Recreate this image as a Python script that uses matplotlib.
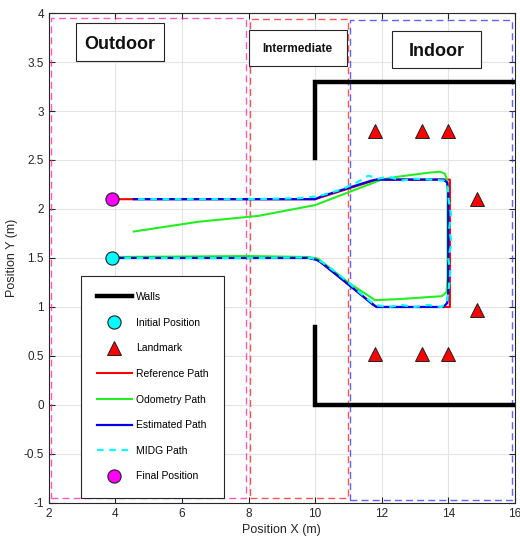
import matplotlib
matplotlib.use("Agg")
import matplotlib.pyplot as plt
from matplotlib.patches import Rectangle

plt.rcParams['font.family'] = ['Liberation Sans', 'DejaVu Sans']

# ---------------- data ----------------
walls_upper_x = [10.0, 10.0, 16.0]
walls_upper_y = [2.52, 3.3, 3.3]
walls_lower_x = [10.0, 10.0, 16.0]
walls_lower_y = [0.8, 0.0, 0.0]

initial_pos = (3.9, 1.5)
final_pos = (3.9, 2.1)

landmark_x = [11.8, 13.2, 14.0, 14.85, 14.85, 11.8, 13.2, 14.0]
landmark_y = [2.8, 2.8, 2.8, 2.1, 0.97, 0.52, 0.52, 0.52]

ref_x = [3.9, 10.0, 11.85, 14.05, 14.05, 11.85, 10.0, 3.9]
ref_y = [1.5, 1.5, 1.0, 1.0, 2.3, 2.3, 2.1, 2.1]

odo_x = [3.9, 8.0, 9.8, 10.1, 11.0, 11.8, 12.5, 13.8, 13.95, 13.98, 13.98, 13.96,
         13.9, 13.75, 13.4, 12.5, 12.0, 11.0, 10.0, 8.3, 6.5, 4.55]
odo_y = [1.51, 1.52, 1.51, 1.49, 1.25, 1.07, 1.08, 1.11, 1.15, 1.3, 2.2, 2.3,
         2.36, 2.38, 2.37, 2.33, 2.3, 2.17, 2.04, 1.93, 1.87, 1.77]

est_x = [3.9, 9.8, 10.05, 10.2, 11.0, 11.75, 11.85, 13.85, 13.97, 14.0, 14.0,
         13.97, 13.85, 11.85, 11.7, 10.2, 10.0, 9.8, 4.55]
est_y = [1.5, 1.5, 1.48, 1.45, 1.23, 1.02, 1.0, 1.0, 1.04, 1.15, 2.18,
         2.27, 2.3, 2.3, 2.29, 2.13, 2.1, 2.1, 2.1]

midg_x = [3.9, 6.0, 8.0, 9.6, 9.9, 10.2, 10.6, 11.0, 11.4, 11.8, 12.2, 12.6, 13.0,
          13.4, 13.8, 13.96, 14.02, 14.06, 14.0, 14.1, 14.03, 14.08, 14.01, 13.99,
          13.87, 13.5, 13.0, 12.6, 12.2, 11.9, 11.6, 11.3, 11.0, 10.7, 10.4, 10.1,
          9.5, 8.0, 6.0, 4.55]
midg_y = [1.5, 1.5, 1.5, 1.505, 1.5, 1.46, 1.36, 1.25, 1.13, 1.02, 1.0, 1.02, 1.0,
          1.02, 1.0, 1.05, 1.2, 1.35, 1.5, 1.65, 1.8, 1.95, 2.1, 2.22,
          2.29, 2.3, 2.31, 2.29, 2.33, 2.31, 2.34, 2.28, 2.23, 2.19, 2.16, 2.13,
          2.11, 2.1, 2.1, 2.1]

legend_labels = ['Walls', 'Initial Position', 'Landmark', 'Reference Path',
                 'Odometry Path', 'Estimated Path', 'MIDG Path', 'Final Position']

# regions: (x0, y0, x1, y1)
outdoor_box = (2.05, -0.95, 7.93, 3.945)
inter_box = (8.04, -0.95, 10.98, 3.94)
indoor_box = (11.05, -0.97, 15.93, 3.93)

# region labels: text, (x0, y0, x1, y1) of the label frame, font size
label_texts = ['Outdoor', 'Intermediate', 'Indoor']
label_frames = [(2.81, 3.51, 5.45, 3.895), (8.0, 3.459, 10.95, 3.827),
                (12.32, 3.436, 14.97, 3.816)]
label_sizes = [13, 8.5, 13]

# ---------------- figure ----------------
fig = plt.figure(figsize=(5.2, 5.42), dpi=100)
ax = fig.add_axes([0.094, 0.072, 0.896, 0.904])

ax.set_xlim(2, 16)
ax.set_ylim(-1, 4)
ax.set_xticks(range(2, 17, 2))
ax.set_yticks([-1, -0.5, 0, 0.5, 1, 1.5, 2, 2.5, 3, 3.5, 4])
ax.set_yticklabels(['-1', '-0.5', '0', '0.5', '1', '1.5', '2', '2.5', '3', '3.5', '4'])
ax.grid(True, color='#e3e3e3', linewidth=0.8)
ax.set_axisbelow(True)
ax.tick_params(direction='in', top=True, right=True, labelsize=8.5, colors='#262626',
               length=4, width=0.8)
for s in ax.spines.values():
    s.set_color('#262626')
    s.set_linewidth(0.8)
ax.set_xlabel('Position X (m)', fontsize=9, color='#262626', labelpad=3)
ax.set_ylabel('Position Y (m)', fontsize=9, color='#262626', labelpad=4)

# region rectangles
for (x0, y0, x1, y1), col in [(outdoor_box, '#ff2fb4'), (inter_box, '#ff2a2a'),
                               (indoor_box, '#3a3aff')]:
    ax.add_patch(Rectangle((x0, y0), x1 - x0, y1 - y0, fill=False, edgecolor=col,
                           linestyle=(0, (5, 3)), linewidth=1.0, alpha=0.8, zorder=2))

# walls
h_walls, = ax.plot(walls_upper_x, walls_upper_y, color='k', linewidth=3.2, zorder=3,
                   solid_joinstyle='miter')
ax.plot(walls_lower_x, walls_lower_y, color='k', linewidth=3.2, zorder=3,
        solid_joinstyle='miter')

h_ref, = ax.plot(ref_x, ref_y, color='#ff0000', linewidth=1.5, zorder=4)
h_odo, = ax.plot(odo_x, odo_y, color='#22ee22', linewidth=1.5, zorder=5)
h_est, = ax.plot(est_x, est_y, color='#0000e6', linewidth=1.6, zorder=6)
h_midg, = ax.plot(midg_x, midg_y, color='#00ffff', linewidth=1.6,
                  linestyle=(0, (3, 2.5)), zorder=7)

h_init, = ax.plot([initial_pos[0]], [initial_pos[1]], 'o', markersize=9.5,
                  markerfacecolor='#00ffff', markeredgecolor='#202020',
                  markeredgewidth=0.8, linestyle='none', zorder=8)
h_lm, = ax.plot(landmark_x, landmark_y, '^', markersize=10,
                markerfacecolor='#ff0000', markeredgecolor='#202020',
                markeredgewidth=0.7, linestyle='none', zorder=8)
h_final, = ax.plot([final_pos[0]], [final_pos[1]], 'o', markersize=9.5,
                   markerfacecolor='#ff00ff', markeredgecolor='#202020',
                   markeredgewidth=0.8, linestyle='none', zorder=8)

# label frames with text
for txt, (x0, y0, x1, y1), fs in zip(label_texts, label_frames, label_sizes):
    ax.add_patch(Rectangle((x0, y0), x1 - x0, y1 - y0, facecolor='white',
                           edgecolor='#262626', linewidth=0.8, zorder=9))
    ax.text((x0 + x1) / 2, (y0 + y1) / 2, txt, fontsize=fs, fontweight='bold',
            ha='center', va='center_baseline', zorder=10, color='#111111')

handles = [h_walls, h_init, h_lm, h_ref, h_odo, h_est, h_midg, h_final]
leg = ax.legend(handles, legend_labels, loc='lower left',
                bbox_to_anchor=(0.069, 0.011), fontsize=7.5, frameon=True,
                fancybox=False, edgecolor='#262626', framealpha=1,
                handlelength=3.3, labelspacing=1.5, borderpad=1.55,
                handletextpad=0.4, borderaxespad=0)
leg.get_frame().set_linewidth(0.8)
leg.set_zorder(11)

fig.savefig('out.png', dpi=100)
